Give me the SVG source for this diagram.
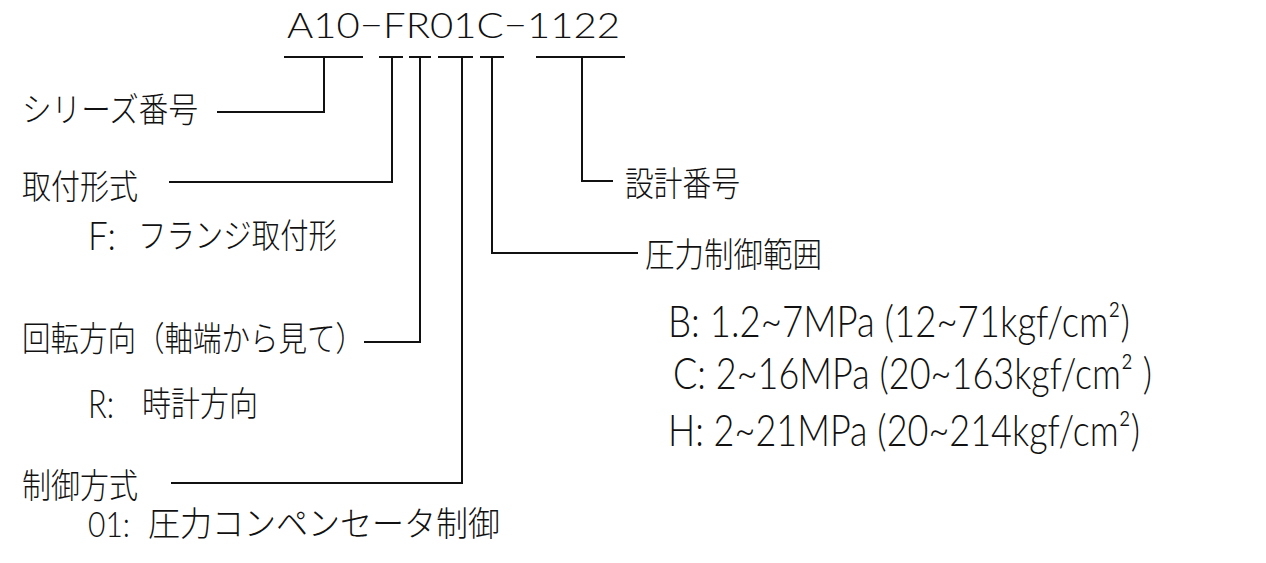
<svg xmlns="http://www.w3.org/2000/svg" width="1266" height="563" viewBox="0 0 1266 563">
<style>
.bg{fill:#ffffff}
.ln{stroke:#111;stroke-width:2;fill:none;stroke-linecap:square}
.jp{font-family:"Noto Sans CJK JP","Lato","Liberation Sans",sans-serif;font-size:34px;font-weight:300;fill:#111}
.la{font-family:"Lato","Liberation Sans","Noto Sans CJK JP",sans-serif;font-weight:300;fill:#111}
.code{font-size:35px}
.spec{font-size:44px}
.lt{font-size:40px}
.lt2{font-size:36px}
</style>
<rect class="bg" x="0" y="0" width="1266" height="563"/>

<g id="code">
<text class="la code" x="287" y="38" textLength="333" lengthAdjust="spacingAndGlyphs">A10−FR01C−1122</text>
</g>

<g id="connectors">
<path class="ln" d="M285 57H362M324 57V112H218"/>
<path class="ln" d="M380 57H402M392 57V182H170"/>
<path class="ln" d="M410 57H430M420 57V342H365"/>
<path class="ln" d="M439 57H472M462 57V483H172"/>
<path class="ln" d="M481 57H503M492 57V253H637"/>
<path class="ln" d="M537 57H624M582 57V181H612"/>
</g>

<g id="series">
<text class="jp" x="22" y="122" textLength="176" lengthAdjust="spacingAndGlyphs">シリーズ番号</text>
</g>

<g id="mounting">
<text class="jp" x="22" y="199" textLength="116" lengthAdjust="spacingAndGlyphs">取付形式</text>
<text class="la lt" x="88" y="250" textLength="28" lengthAdjust="spacingAndGlyphs">F:</text>
<text class="jp" x="138" y="248" textLength="199" lengthAdjust="spacingAndGlyphs">フランジ取付形</text>
</g>

<g id="rotation">
<text class="jp" x="22" y="351" textLength="342" lengthAdjust="spacingAndGlyphs">回転方向（軸端から見て）</text>
<text class="la lt" x="88" y="418" textLength="26" lengthAdjust="spacingAndGlyphs">R:</text>
<text class="jp" x="142" y="416" textLength="116" lengthAdjust="spacingAndGlyphs">時計方向</text>
</g>

<g id="control">
<text class="jp" x="22" y="498" textLength="116" lengthAdjust="spacingAndGlyphs">制御方式</text>
<text class="la lt2" x="88" y="537" textLength="42" lengthAdjust="spacingAndGlyphs">01:</text>
<text class="jp" x="148" y="536" textLength="352" lengthAdjust="spacingAndGlyphs">圧力コンペンセータ制御</text>
</g>

<g id="design">
<text class="jp" x="625" y="196" textLength="115" lengthAdjust="spacingAndGlyphs">設計番号</text>
</g>

<g id="pressure">
<text class="jp" x="645" y="267" textLength="177" lengthAdjust="spacingAndGlyphs">圧力制御範囲</text>
<text class="la spec" x="668" y="337" textLength="462" lengthAdjust="spacingAndGlyphs">B: 1.2~7MPa (12~71kgf/cm²)</text>
<text class="la spec" x="673" y="389" textLength="479" lengthAdjust="spacingAndGlyphs">C: 2~16MPa (20~163kgf/cm² )</text>
<text class="la spec" x="668" y="446" textLength="472" lengthAdjust="spacingAndGlyphs">H: 2~21MPa (20~214kgf/cm²)</text>
</g>
</svg>
